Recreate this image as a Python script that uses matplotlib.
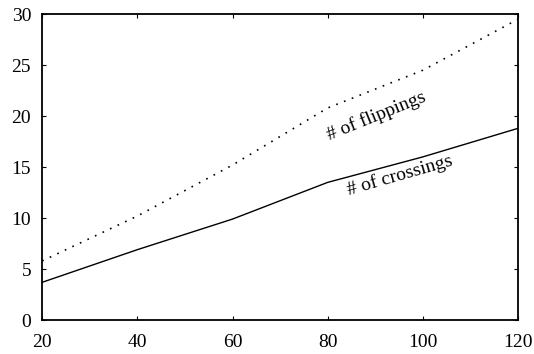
import matplotlib
matplotlib.use("Agg")
import matplotlib.pyplot as plt

plt.rcParams['font.family'] = ['Liberation Serif', 'DejaVu Serif']

n = [20, 40, 60, 80, 100, 120]
crossings = [3.7, 6.9, 9.9, 13.5, 16.0, 18.8]
flippings = [5.8, 10.2, 15.2, 20.8, 24.5, 29.5]

fig = plt.figure(figsize=(5.34, 3.54), dpi=100)
ax = fig.add_axes([0.079, 0.096, 0.891, 0.864])

ax.plot(n, crossings, color='black', linewidth=1.0)
ax.plot(n, flippings, color='black', linewidth=1.2, linestyle=(0, (1, 4)))

ax.set_xlim(20, 120)
ax.set_ylim(0, 30)
ax.set_xticks([20, 40, 60, 80, 100, 120])
ax.set_yticks([0, 5, 10, 15, 20, 25, 30])
ax.tick_params(direction='in', length=3, top=True, right=True, labelsize=14)
ax.tick_params(axis='x', pad=10)
ax.tick_params(axis='y', pad=8)
for s in ax.spines.values():
    s.set_linewidth(1.3)

ax.text(90.2, 20.0, '# of flippings', rotation=22, fontsize=14, ha='center', va='center')
ax.text(95.2, 14.2, '# of crossings', rotation=16, fontsize=14, ha='center', va='center')

fig.savefig('out.png', dpi=100)
